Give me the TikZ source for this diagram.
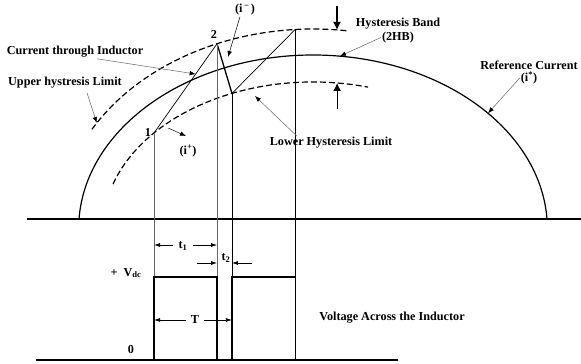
\documentclass[tikz,border=0pt]{standalone}
\usepackage{fontspec}
\setmainfont{Liberation Serif}
\usepackage{tikz}
\usetikzlibrary{arrows.meta, positioning}

\begin{document}
\begin{tikzpicture}[x=1pt, y=1pt,
    lbl/.style={font=\bfseries\fontsize{12.2}{14}\selectfont, inner sep=1pt},
    pointer/.style={draw=black!60, line width=0.5pt, -{Latex[length=6pt,width=4.5pt,color=black]}},
    dim/.style={line width=0.7pt, -{Latex[length=6pt,width=4pt]}},
    band/.style={line width=1.2pt, -{Latex[length=8pt,width=8pt]}},
    refcurve/.style={line width=1.2pt},
    limit/.style={line width=1.2pt, dash pattern=on 6pt off 3pt},
    guide/.style={line width=0.6pt},
    ramp/.style={line width=0.7pt},
    pulse/.style={line width=1.3pt},
    axis/.style={line width=1.1pt}
]
\useasboundingbox (0,0) rectangle (581,364);

% centre of the current curves and the levels of the lower plot
\coordinate (c) at (313,135);
\coordinate (bot) at (0,4);
\coordinate (high) at (0,87);

% points of the inductor current
\path (c) ++(139.2:210pt and 147pt) coordinate (p1);
\path (c) ++(112.1:255pt and 200pt) coordinate (p2);
\path (c) ++(112.7:210pt and 147pt) coordinate (p3);
\path (c) ++(94.0:255pt and 200pt) coordinate (p4);

% axes
\coordinate (axL) at (27,145);
\coordinate (axR) at (581,145);
\coordinate (botL) at (36,4);
\coordinate (botR) at (398,4);
\draw[axis] (axL) -- (axR);
\draw[axis] (botL) -- (botR);

% reference current and hysteresis limits
\draw[refcurve] (c) ++(176.7:234.4pt and 174pt) arc[start angle=176.7, end angle=3.3, x radius=234.4pt, y radius=174pt];
\draw[limit] (c) ++(150.1:255pt and 200pt) arc[start angle=150.1, end angle=82.1, x radius=255pt, y radius=200pt];
\draw[limit] (c) ++(162.2:210pt and 147pt) arc[start angle=162.2, end angle=74.8, x radius=210pt, y radius=147pt];

% inductor current
\draw[ramp] (p1) -- (p2);
\draw[pulse] (p2) -- (p3);
\draw[ramp] (p3) -- (p4);

% guide lines down to the voltage plot
\draw[guide, black!60] (p1) -- (p1 |- bot);
\draw[guide, black!60] (p2) -- (p2 |- bot);
\draw[guide] (p3) -- (p3 |- bot);
\draw[guide] (p4) -- (p4 |- bot);

% voltage pulses
\draw[pulse] (p1 |- bot) -- (p1 |- high) -- (p2 |- high) -- (p2 |- bot);
\draw[pulse] (p3 |- bot) -- (p3 |- high) -- (p4 |- high) -- (p4 |- bot);

% labels
\node[lbl] (curlbl) at (75,312) {Current through Inductor};
\node[lbl] (uplbl) at (65,281) {Upper hystresis Limit};
\node[lbl] (imlbl) at (245,354) {(i\textsuperscript{\,−\,})};
\node[lbl] (n2) at (214,330) {2};
\node[lbl] (n1) at (148,232) {1};
\node[lbl] (iplbl) at (188,213) {(i\textsuperscript{+})};
\node[lbl] (bandlbl) at (398,340) {Hysteresis Band};
\node[lbl, below=0pt of bandlbl] (hblbl) {(2HB)};
\node[lbl] (reflbl) at (529,299) {Reference Current};
\node[lbl, below=0pt of reflbl] (istar) {(i\textsuperscript{*})};
\node[lbl] (lowlbl) at (331,221) {Lower Hysteresis Limit};
\node[lbl] (vdc) at (126,91) {+\ \ V\textsubscript{dc}};
\node[lbl] (zero) at (131,14) {0};
\node[lbl] (vlbl) at (392,46) {Voltage Across the Inductor};
\node[lbl] (t1) at (183,118) {t\textsubscript{1}};
\node[lbl] (t2) at (226,106) {t\textsubscript{2}};
\node[lbl] (tp) at (195,44) {T};

% arrow targets
\path (p1) -- (p2) coordinate[pos=0.66] (ind);
\path (c) ++(148:255pt and 200pt) coordinate (uptip);
\path (c) ++(41.7:234.4pt and 174pt) coordinate (reftip);
\path (c) ++(83.4:234.4pt and 174pt) coordinate (bandtip);
\path (c) ++(84.6:255pt and 200pt) coordinate (bandtop);
\path (c) ++(83.4:210pt and 147pt) coordinate (bandbot);
\coordinate (imtip) at (228,307);
\coordinate (lowtip) at (255,268);
\coordinate (ipfrom) at (168,236);
\coordinate (ipto) at (186,228);

\draw[pointer] ([xshift=22pt]curlbl.south) -- (ind);
\draw[pointer] ([shift={(22pt,-3pt)}]uplbl.south) -- (uptip);
\draw[pointer, draw=black] ([xshift=-5pt]imlbl.south) -- (imtip);
\draw[pointer, draw=black] (ipfrom) -- (ipto);
\draw[pointer] (hblbl.west) -- (bandtip);
\draw[pointer] (istar.west) -- (reftip);
\draw[pointer] ([xshift=-34pt]lowlbl.north) -- (lowtip);

% hysteresis band
\draw[band] ([yshift=24pt]bandtop) -- (bandtop);
\draw[band] ([yshift=-26pt]bandbot) -- (bandbot);

% time intervals
\coordinate (t1row) at (0,119);
\coordinate (t2row) at (0,101);
\coordinate (trow) at (0,44);
\draw[dim] ([xshift=-4pt]t1.west |- t1row) -- (t1row -| p1);
\draw[dim] ([xshift=4pt]t1.east |- t1row) -- (t1row -| p2);
\draw[dim] ([xshift=-20pt]t2row -| p2) -- (t2row -| p2);
\draw[dim] ([xshift=20pt]t2row -| p3) -- (t2row -| p3);
\draw[dim] ([xshift=-4pt]tp.west) -- (trow -| p1);
\draw[dim] ([xshift=4pt]tp.east) -- (trow -| p3);
\end{tikzpicture}
\end{document}
